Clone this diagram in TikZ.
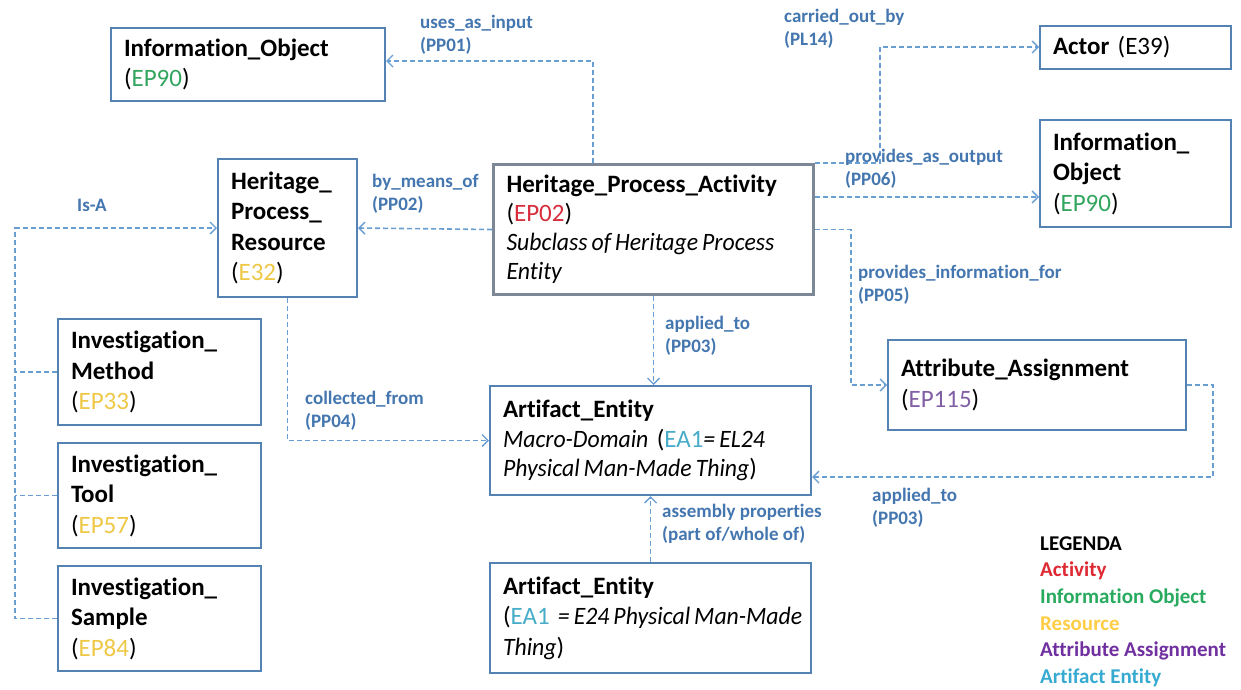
\documentclass[tikz,border=0pt]{standalone}
\usepackage{fontspec}
\setmainfont{Carlito}[Ligatures=NoCommon]
\usetikzlibrary{arrows.meta}
\definecolor{boxc}{RGB}{84,130,178}
\definecolor{hpac}{RGB}{125,136,150}
\definecolor{connc}{RGB}{105,158,210}
\definecolor{lblc}{RGB}{68,118,175}
\definecolor{greenE}{RGB}{50,165,95}
\definecolor{redE}{RGB}{215,45,60}
\definecolor{yellowE}{RGB}{238,200,70}
\definecolor{purpleE}{RGB}{130,95,165}
\definecolor{cyanE}{RGB}{70,172,200}
\definecolor{legred}{RGB}{222,40,50}
\definecolor{leggreen}{RGB}{40,170,95}
\definecolor{legyellow}{RGB}{255,205,70}
\definecolor{legpurple}{RGB}{112,48,160}
\definecolor{legcyan}{RGB}{55,170,210}
\newcommand\itl[1]{{\itshape\addfontfeature{FakeStretch=0.95}\spaceskip=4pt\relax #1}}
\tikzset{
  ebox/.style={draw=boxc, line width=2pt, anchor=north west, inner xsep=13pt,
    inner ysep=0pt, align=left, font=\fontsize{25}{30.5}\selectfont},
  conn/.style={draw=connc, line width=1.6pt, dash pattern=on 5pt off 3pt,
    -{Straight Barb[length=6pt,width=12pt,line width=1.4pt]}},
  plain/.style={draw=connc, line width=1.6pt, dash pattern=on 5pt off 3pt},
  lbl/.style={anchor=west, align=left, text=lblc, inner sep=0pt,
    font=\bfseries\fontsize{19}{23}\selectfont}
}
\begin{document}
\begin{tikzpicture}[x=1pt,y=-1pt]
\useasboundingbox[fill=white] (0,0) rectangle (1241,689);

% boxes
\node[ebox, minimum width=274pt, minimum height=73pt, text width=248pt] (io1) at (110,27)
  {\textbf{Information\_Object}\\(\textcolor{greenE}{EP90})};
\node[ebox, minimum width=191pt, minimum height=43pt, text width=165pt] (act) at (1039,25)
  {\textbf{Actor} (E39)};
\node[ebox, minimum width=191pt, minimum height=107pt, text width=165pt] (io2) at (1039,119)
  {\textbf{Information\_}\\\textbf{Object}\\(\textcolor{greenE}{EP90})};
\node[ebox, minimum width=139pt, minimum height=138pt, text width=113pt] (hpr) at (217,158)
  {\textbf{Heritage\_}\\\textbf{Process\_}\\\textbf{Resource}\\(\textcolor{yellowE}{E32})};
\node[ebox, draw=hpac, line width=3pt, minimum width=320pt, minimum height=130pt, text width=294pt,
  font=\fontsize{25}{29}\selectfont] (hpa) at (492,163)
  {\textbf{Heritage\_Process\_Activity}\\(\textcolor{redE}{EP02})\\\mbox{\itl{Subclass of Heritage Process}}\\\itl{Entity}};
\node[ebox, minimum width=298pt, minimum height=90pt, text width=272pt] (aa) at (887,339)
  {\textbf{Attribute\_Assignment}\\(\textcolor{purpleE}{EP115})};
\node[ebox, minimum width=321pt, minimum height=109pt, text width=295pt, font=\fontsize{25}{29.5}\selectfont] (ae1) at (489,385)
  {\textbf{Artifact\_Entity}\\\mbox{\itl{Macro-Domain} (\textcolor{cyanE}{EA1}\itl{= EL24}}\\\mbox{\itl{Physical Man-Made Thing})}};
\node[ebox, minimum width=321pt, minimum height=110pt, text width=295pt] (ae2) at (489,562)
  {\textbf{Artifact\_Entity}\\\mbox{(\textcolor{cyanE}{EA1} \itl{= E24 Physical Man-Made}}\\\itl{Thing})};
\node[ebox, minimum width=203pt, minimum height=106pt, text width=177pt] (im) at (57,318)
  {\textbf{Investigation\_}\\\textbf{Method}\\(\textcolor{yellowE}{EP33})};
\node[ebox, minimum width=203pt, minimum height=105pt, text width=177pt] (it) at (57,442)
  {\textbf{Investigation\_}\\\textbf{Tool}\\(\textcolor{yellowE}{EP57})};
\node[ebox, minimum width=203pt, minimum height=105pt, text width=177pt] (is) at (57,565)
  {\textbf{Investigation\_}\\\textbf{Sample}\\(\textcolor{yellowE}{EP84})};

% corner coordinates
\coordinate (c1) at (593,61);
\coordinate (c2) at (880,47);
\coordinate (c6) at (0,197);
\coordinate (c3) at (1213,477);

% connectors
\draw[conn] (hpa.north -| c1) -- (c1) -- (io1.east |- c1);
\draw[conn] (hpa.north east) -- (hpa.north east -| c2) -- (c2) -- (act.west |- c2);
\draw[conn] (hpa.east |- c6) -- (io2.west |- c6);
\draw[conn] (hpa.east) -- ++(36,0) |- (aa.west);
\draw[conn] (hpa.west) -- (hpr.east);
\draw[conn] (is.west) -- ++(-42,0) |- (hpr.west);
\draw[plain] (im.west) -- ++(-42,0);
\draw[plain] (it.west) -- ++(-42,0);
\draw[conn] (hpa.south) -- (hpa.south |- ae1.north);
\draw[conn] (hpr.south) |- (ae1.west);
\draw[conn] (aa.east) -| (c3) -- (ae1.east |- c3);
\draw[conn] (ae2.north) -- (ae1.south);

% labels
\node[lbl] (l1) at (420,35) {uses\_as\_input\\(PP01)};
\node[lbl] (l2) at (784,29) {carried\_out\_by\\(PL14)};
\node[lbl] (l3) at (845,169) {provides\_as\_output\\(PP06)};
\node[lbl] (l4) at (372,194) {by\_means\_of\\(PP02)};
\node[lbl] (l5) at (77,205) {Is-A};
\node[lbl] (l6) at (858,285) {provides\_information\_for\\(PP05)};
\node[lbl] (l7) at (665,336) {applied\_to\\(PP03)};
\node[lbl] (l8) at (305,411) {collected\_from\\(PP04)};
\node[lbl] (l9) at (872,508) {applied\_to\\(PP03)};
\node[lbl] (l10) at (662,524) {assembly properties\\(part of/whole of)};

% legend
\node[anchor=west, align=left, inner sep=0pt, font=\bfseries\fontsize{21}{26.6}\selectfont] (leg) at (1040,611.5)
  {LEGENDA\\\textcolor{legred}{Activity}\\\textcolor{leggreen}{Information Object}\\\textcolor{legyellow}{Resource}\\\textcolor{legpurple}{Attribute Assignment}\\\textcolor{legcyan}{Artifact Entity}};
\end{tikzpicture}
\end{document}
